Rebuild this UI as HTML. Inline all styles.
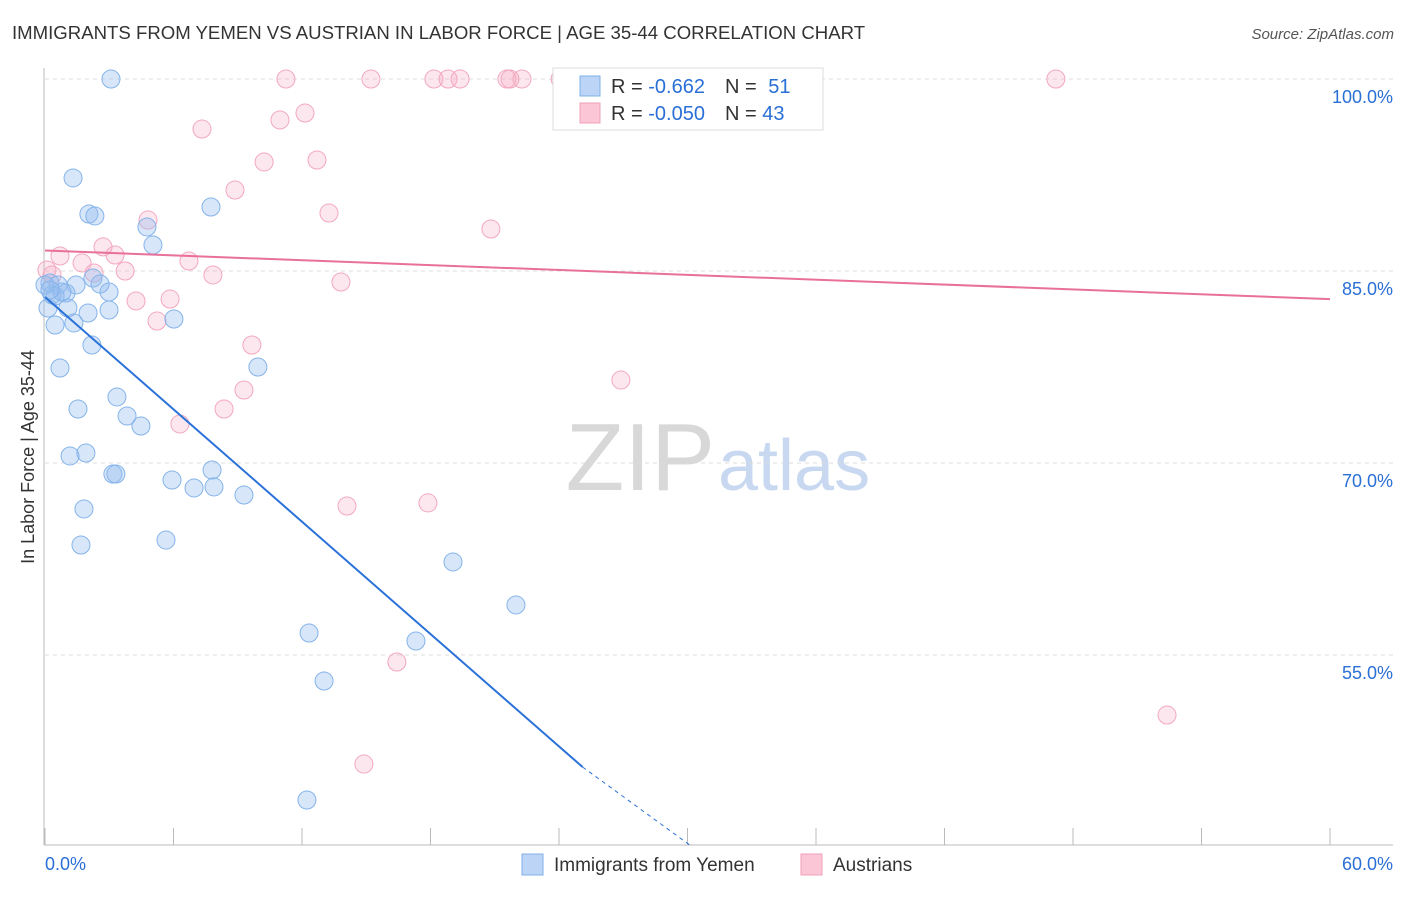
<!DOCTYPE html>
<html><head><meta charset="utf-8"><style>
body{margin:0;background:#fff;font-family:"Liberation Sans",sans-serif;}
svg text{font-family:"Liberation Sans",sans-serif;}
</style></head><body>
<svg id="chart" width="1406" height="892" viewBox="0 0 1406 892" xmlns="http://www.w3.org/2000/svg">
<text x="12" y="39" font-size="18.6" fill="#333">IMMIGRANTS FROM YEMEN VS AUSTRIAN IN LABOR FORCE | AGE 35-44 CORRELATION CHART</text>
<text x="1394" y="39" font-size="15" fill="#555" text-anchor="end" font-style="italic">Source: ZipAtlas.com</text>
<text x="715" y="490" font-size="96" fill="#d8d8d8" text-anchor="end" font-family="Liberation Serif">ZIP</text>
<text x="718" y="490" font-size="72" fill="#c8d8f0">atlas</text>
<g id="grid"></g>
<g id="axes"></g>
<g id="marks"></g>
<text transform="translate(34,457) rotate(-90)" font-size="18" fill="#333" text-anchor="middle">In Labor Force | Age 35-44</text>
<g>
<rect x="553" y="68" width="270" height="62" fill="#fff" stroke="#ddd"/>
<rect x="580" y="76" width="20" height="20" fill="#bcd4f5" stroke="#7fb0e8"/>
<rect x="580" y="103" width="20" height="20" fill="#fbc6d6" stroke="#f0a0b8"/>
<text x="611" y="93" font-size="20" fill="#333">R = <tspan fill="#2a6fd6">-0.662</tspan><tspan dx="20">N = </tspan><tspan fill="#2a6fd6" dx="6">51</tspan></text>
<text x="611" y="120" font-size="20" fill="#333">R = <tspan fill="#2a6fd6">-0.050</tspan><tspan dx="20">N = </tspan><tspan fill="#2a6fd6">43</tspan></text>
</g>
<g>
<rect x="522" y="854" width="21" height="21" fill="#bcd4f5" stroke="#7fb0e8"/>
<text x="554" y="871" font-size="19" fill="#333">Immigrants from Yemen</text>
<rect x="801" y="854" width="21" height="21" fill="#fbc6d6" stroke="#f0a0b8"/>
<text x="833" y="871" font-size="19" fill="#333">Austrians</text>
</g>
</svg>
<script>
const blueX=[3.08,1.31,2.05,2.33,7.75,4.76,5.04,0.23,0.61,0.33,0.98,1.45,2.99,2.24,0.14,1.07,2.01,2.99,0.47,1.35,6.02,2.19,0.70,9.94,3.36,1.54,3.83,4.48,1.17,1.91,3.17,3.31,5.93,7.80,6.96,7.89,9.29,1.82,1.68,5.65,19.05,21.99,12.33,17.32,13.03,12.23,0.47,0.79,0,0.23,2.57];
const blueY=[100,92.27,89.45,89.3,90,88.44,87.03,84.06,83.91,83.13,83.28,83.91,83.36,84.45,82.11,82.11,81.72,81.95,80.78,80.94,81.25,79.22,77.42,77.5,75.16,74.22,73.67,72.89,70.55,70.78,69.14,69.14,68.67,69.45,68.05,68.13,67.5,66.41,63.59,63.98,62.27,58.91,56.72,56.09,52.97,43.67,83.05,83.36,83.91,83.52,83.98];
const pinkX=[11.25,15.22,18.16,18.82,19.38,21.71,22.27,24.05,47.2,12.14,10.97,7.33,12.7,10.23,8.87,4.81,13.26,20.82,2.71,3.27,0.70,1.73,6.72,3.74,2.29,7.84,13.82,4.25,5.84,5.23,9.66,9.29,26.89,8.36,6.30,17.88,14.10,16.43,52.39,14.89,0.33,0.09,21.57];
const pinkY=[100,100,100,100,100,100,100,100,100,97.34,96.8,96.09,93.67,93.52,91.33,88.98,89.53,88.28,86.88,86.25,86.17,85.63,85.78,85,84.84,84.69,84.14,82.66,82.81,81.09,79.22,75.7,76.48,74.22,73.05,66.88,66.64,54.45,50.31,46.48,84.69,85.08,100];
const blueTrendX=[0,25.1,30.1];
const blueTrendY=[82.97,46.25,40.16];
const pinkTrendX=[0,60];
const pinkTrendY=[86.6,82.8];
const yTicks=[100,85,70,55];
const xTickLabels=["0.0%","60.0%"];

const NS="http://www.w3.org/2000/svg";
const sx=v=>45+v/60*1285;
const sy=v=>79+(100-v)*12.8;
function mk(tag,attrs,parent){const e=document.createElementNS(NS,tag);for(const k in attrs)e.setAttribute(k,attrs[k]);parent.appendChild(e);return e;}
const grid=document.getElementById('grid'),axes=document.getElementById('axes'),marks=document.getElementById('marks');
yTicks.forEach(t=>{
  const l=mk('line',{x1:45,x2:1393,y1:sy(t),y2:sy(t),stroke:'#ddd','stroke-dasharray':'4,4'},grid);
  
  
  const tx=mk('text',{x:1393,y:sy(t)+24,'font-size':18,fill:'#2a6fd6','text-anchor':'end'},axes);
  tx.textContent=t.toFixed(1)+'%';
  
  
});
mk('line',{x1:44,x2:44,y1:68,y2:845,stroke:'#bbb'},axes);
mk('line',{x1:44,x2:1393,y1:845,y2:845,stroke:'#bbb'},axes);
for(let i=0;i<=10;i++){
  const t=mk('line',{x1:sx(i*6),x2:sx(i*6),y1:828,y2:845,stroke:'#bbb'},axes);
  
  
}
const xl0=mk('text',{x:45,y:870,'font-size':18,fill:'#2a6fd6'},axes);xl0.textContent=xTickLabels[0];


const xl1=mk('text',{x:1393,y:870,'font-size':18,fill:'#2a6fd6','text-anchor':'end'},axes);xl1.textContent=xTickLabels[1];


pinkX.forEach((v,i)=>{
  const c=mk('circle',{cx:sx(v),cy:sy(pinkY[i]),r:9,fill:'rgba(248,170,195,0.28)',stroke:'#f2a8bf','stroke-width':1},marks);
  
  
});
blueX.forEach((v,i)=>{
  const c=mk('circle',{cx:sx(v),cy:sy(blueY[i]),r:9,fill:'rgba(150,190,240,0.38)',stroke:'#85b4ea','stroke-width':1},marks);
  
  
});
const bt=mk('line',{x1:sx(blueTrendX[0]),y1:sy(blueTrendY[0]),x2:sx(blueTrendX[1]),y2:sy(blueTrendY[1]),stroke:'#2a72d8','stroke-width':2},marks);


const bd=mk('line',{x1:sx(blueTrendX[1]),y1:sy(blueTrendY[1]),x2:sx(blueTrendX[2]),y2:sy(blueTrendY[2]),stroke:'#2a72d8','stroke-width':1,'stroke-dasharray':'4,4'},marks);


const pt=mk('line',{x1:sx(pinkTrendX[0]),y1:sy(pinkTrendY[0]),x2:sx(pinkTrendX[1]),y2:sy(pinkTrendY[1]),stroke:'#e8709a','stroke-width':2},marks);


</script>
</body></html>
